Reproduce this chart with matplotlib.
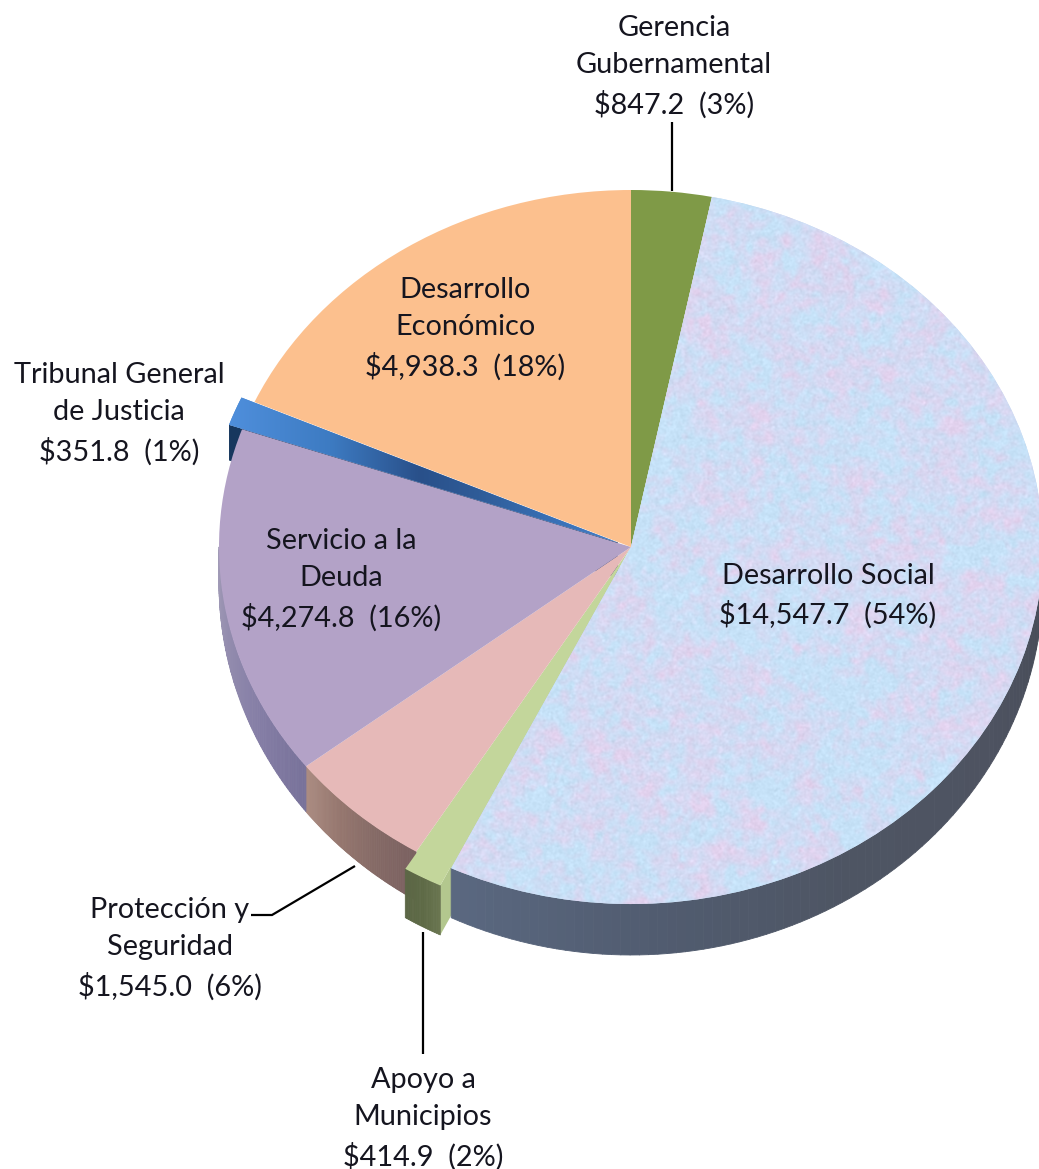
import numpy as np
import matplotlib
matplotlib.use('Agg')
import matplotlib.pyplot as plt
from matplotlib.collections import PolyCollection
from matplotlib.colors import to_rgb
from matplotlib.patches import Wedge

plt.rcParams['font.family'] = ['Lato', 'DejaVu Sans']

W, H = 1039, 1169

# data
names = ['Gerencia\nGubernamental', 'Desarrollo Social', 'Apoyo a\nMunicipios', 'Protección y\nSeguridad',
         'Servicio a la\nDeuda', 'Tribunal General\nde Justicia', 'Desarrollo\nEconómico']
values = [847.2, 14547.7, 414.9, 1545.0, 4274.8, 351.8, 4938.3]
percents = [3, 54, 2, 6, 16, 1, 18]
top_colors = ['#7f9a47', '#c8dcf3', '#c3d69b', '#e6b9b8', '#b3a2c7', '#4a86d0', '#fcc08e']
explode = [0, 0, 0.055, 0, 0, 0.034, 0]

# pie geometry in pixels of the picture
cx, cy, rx, ry = 631, 547, 412, 357
bottom_shift, bottom_ry = 36, 372

fig = plt.figure(figsize=(W / 100, H / 100), dpi=100)
ax = fig.add_axes([0, 0, 1, 1])
wedges, _ = ax.pie(values, startangle=90, counterclock=False, explode=explode, colors=top_colors, radius=1)
ax.set_aspect('auto')
ax.axis('off')

# angles clockwise from the top, in degrees
edges = np.concatenate([[0], np.cumsum(values)]) / np.sum(values) * 360


def top_point(a, off=(0, 0)):
    t = np.radians(a)
    return np.column_stack([np.sin(t) + off[0], np.cos(t) + off[1]])


def low_point(a, off=(0, 0)):
    t = np.radians(a)
    return np.column_stack([np.sin(t) + off[0], (-bottom_shift + bottom_ry * np.cos(t)) / ry + off[1]])


def wall(a0, a1, colors, z, off=(0, 0), n=90):
    ang = np.linspace(a0, a1, n + 1)
    up = top_point(ang, off)
    lo = low_point(ang, off)
    quads = [[up[i], up[i + 1], lo[i + 1], lo[i]] for i in range(n)]
    pos = np.linspace(0, 1, len(colors))
    rgb = np.array([to_rgb(c) for c in colors])
    s = np.linspace(0, 1, n)
    cols = np.column_stack([np.interp(s, pos, rgb[:, k]) for k in range(3)])
    ax.add_collection(PolyCollection(quads, facecolors=cols, edgecolors=cols, linewidths=0.6, zorder=z))


def offset(i):
    mid = np.radians((edges[i] + edges[i + 1]) / 2)
    return (explode[i] * np.sin(mid), explode[i] * np.cos(mid))


# side walls
wall(90, edges[2], ['#454a55', '#4e5361', '#4e5563', '#515c70', '#5a6880'], 1)
wall(edges[3], edges[4], ['#7a6060', '#856a66', '#96776f', '#ab8c82'], 1)
wall(edges[4], 270, ['#78729a', '#857ea6', '#938cae', '#a09ab6'], 1)

# radial cuts of the two pulled out slices
off_a = offset(2)
a_out = top_point(np.array([edges[2]]), off_a)[0]
a_in = np.array([off_a[0], off_a[1]])
a_low = low_point(np.array([edges[2]]), off_a)[0]
drop = a_out[1] - a_low[1]
ax.fill([a_out[0], a_in[0], a_in[0], a_low[0]], [a_out[1], a_in[1], a_in[1] - drop, a_low[1]],
        color='#b3c78e', lw=0, zorder=0.9)

off_t = offset(5)
t_out = top_point(np.array([edges[5]]), off_t)[0]
ax.fill([t_out[0], off_t[0], off_t[0], t_out[0]], [t_out[1], off_t[1], off_t[1] - 0.1, t_out[1] - 0.1],
        color='#17375e', lw=0, zorder=1.5)

for w in wedges:
    w.set_zorder(3)
wedges[5].set_zorder(2.5)
wedges[2].set_zorder(6)

# fills the notch the small slice leaves behind
ax.add_patch(Wedge((0, 0), 1, 90 - edges[3], 90 - edges[2], facecolor=top_colors[2], lw=0, zorder=2.9))

# mottled fill of the big slice
rng = np.random.default_rng(7)


def blur_noise(shape, size):
    f = np.fft.fft2(rng.normal(size=shape))
    fy = np.fft.fftfreq(shape[0])[:, None]
    fx = np.fft.fftfreq(shape[1])[None, :]
    out = np.fft.ifft2(f * np.exp(-(fx ** 2 + fy ** 2) * size ** 2 * 6)).real
    return (out - out.mean()) / out.std()


shape = (800, 900)
big = blur_noise(shape, 16)
mid = blur_noise(shape, 5)
fine = blur_noise(shape, 1.6)
mix = np.clip(0.36 + 0.2 * big + 0.16 * mid, 0, 1)[..., None]
blue = np.array([198, 226, 248]) / 255
pink = np.array([226, 210, 238]) / 255
tex = np.clip(blue * (1 - mix) + pink * mix + 0.012 * fine[..., None], 0, 1)
im = ax.imshow(tex, extent=(-1.05, 1.05, -1.05, 1.05), aspect='auto', zorder=3.2)
im.set_clip_path(wedges[1])

# shaded fill of the blue slice
blue_pos = [0, 0.05, 0.29, 0.5, 0.64, 0.83, 1]
blue_cols = np.array([to_rgb(c) for c in ['#4f8fdc', '#4f8fdc', '#3d7bc2', '#29508a', '#2f5c98', '#3a72b8', '#4a80c4']])
gx = np.linspace(0, 1, 256)
grad = np.column_stack([np.interp(gx, blue_pos, blue_cols[:, k]) for k in range(3)])[None, ...]
im2 = ax.imshow(grad, extent=(-1.03, 0, -0.2, 0.5), aspect='auto', zorder=2.6)
im2.set_clip_path(wedges[5])
ax.set_xlim(-cx / rx, (W - cx) / rx)
ax.set_ylim((cy - H) / ry, cy / ry)

# front of the pulled out small slice, over the big slice
wall(edges[2], edges[3], ['#6a7650', '#5e6a46', '#5c6746'], 5, off=off_a, n=20)

# overlay in picture pixels for leaders and labels
ov = fig.add_axes([0, 0, 1, 1], facecolor='none')
ov.set_xlim(0, W)
ov.set_ylim(H, 0)
ov.axis('off')

line_kw = dict(color='black', lw=1.6, solid_capstyle='butt', solid_joinstyle='miter')
ov.plot([672, 672], [122, 191], **line_kw)
ov.plot([251, 272, 355], [915, 915, 866], **line_kw)
ov.plot([423, 423], [932, 1054], **line_kw)

label_xy = [(674, 67), (828, 596), (423, 1119), (170, 949), (341, 580), (119, 414), (465, 329)]
for name, v, p, (x, y) in zip(names, values, percents, label_xy):
    ov.text(x, y, f'{name}\n${v:,.1f}  ({p}%)', ha='center', va='center', fontsize=20.8,
            linespacing=1.52, color='#15151f')

fig.savefig('out.png', dpi=100)
